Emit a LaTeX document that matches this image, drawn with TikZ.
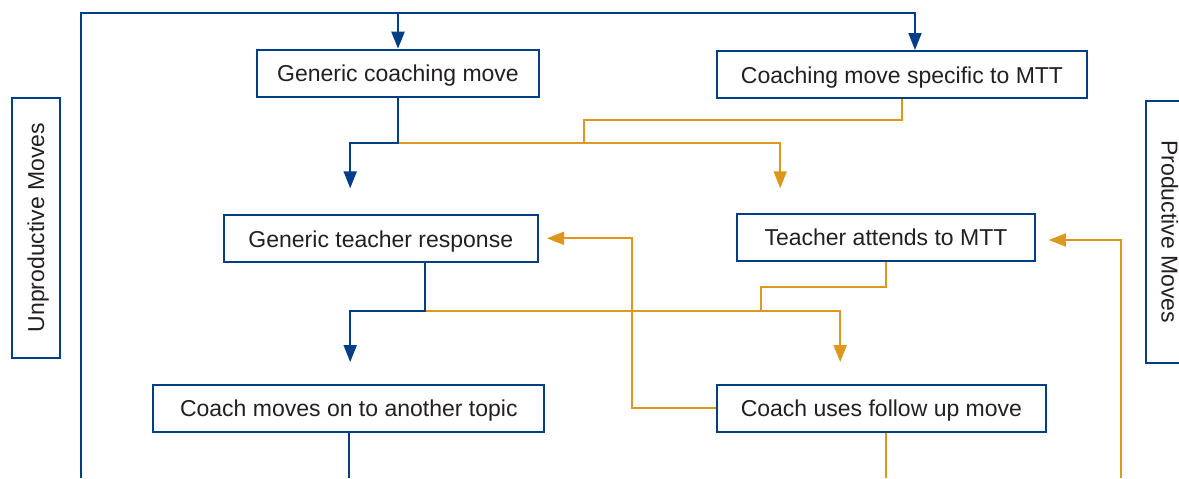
\documentclass[tikz,border=0pt]{standalone}
\usepackage{fontspec}
\setmainfont{Liberation Sans}
\usepackage{tikz}
\usetikzlibrary{arrows.meta}
\usetikzlibrary{calc}
\definecolor{mttblue}{RGB}{0,63,135}
\definecolor{mttorange}{RGB}{221,152,28}
\definecolor{textgray}{RGB}{35,31,32}

\begin{document}
\begin{tikzpicture}[x=0.5pt,y=-0.5pt,font=\fontsize{11.5}{13}\selectfont,
	box/.style={draw=mttblue,line width=1pt,minimum height=23.5pt,inner sep=0pt,text=textgray,text height=9.5pt,text depth=1pt},
	blueline/.style={draw=mttblue,line width=1pt},
	orangeline/.style={draw=mttorange,line width=0.95pt},
	tip/.style={-{Triangle[length=8.5pt,width=6.5pt]}}]
					\useasboundingbox (0,0) rectangle (1179,478);
					\clip (0,0) rectangle (1179,478);
					\node[box,minimum width=141pt] (gcm) at (398,73.2) {Generic coaching move};
					\node[box,minimum width=185pt] (cms) at (902,74.5) {Coaching move specific to MTT};
					\node[box,minimum width=157pt] (gtr) at (380.8,238.5) {Generic teacher response};
					\node[box,minimum width=149pt] (tam) at (886,237.2) {Teacher attends to MTT};
					\node[box,minimum width=195.5pt] (cmo) at (348.8,408.3) {Coach moves on to another topic};
					\node[box,minimum width=164.5pt] (cuf) at (881.4,408.3) {Coach uses follow up move};
					\node[box,rotate=90,minimum width=130pt,minimum height=24pt] (unp) at (35.6,227.5) {Unproductive Moves};
					\node[box,rotate=-90,minimum width=131pt,minimum height=24pt] (pro) at (1170,231.7) {Productive Moves};
					\coordinate (loopin) at (81,478);
					\coordinate (loopcorner) at (81,13.3);
					\coordinate (split1) at (398,143.3);
					\coordinate (knee1) at (584.4,120);
					\coordinate (merge1) at (584.4,143.3);
					\coordinate (tipgtr) at (350.2,188.3);
					\coordinate (tiptam) at (780.2,188.3);
					\coordinate (split2) at (425,310.7);
					\coordinate (knee2) at (761,286.7);
					\coordinate (merge2) at (761,310.7);
					\coordinate (tipcmo) at (350.2,362);
					\coordinate (tipcuf) at (840.2,362);
					\coordinate (knee3) at (632.4,238.3);
					\coordinate (backgtr) at (547,238.3);
					\coordinate (backtam) at (1048.8,240);
					\coordinate (loopright) at (1120.8,478);
					\coordinate (cufout) at (886,478);
					\draw[orangeline] (cms.south) |- (knee1) -- (merge1);
					\draw[orangeline,tip] (split1) -| (tiptam);
					\draw[orangeline] (tam.south) |- (knee2) -- (merge2);
					\draw[orangeline,tip] (split2) -| (tipcuf);
					\draw[orangeline,tip] (cuf.west) -| (knee3) -- (backgtr);
					\draw[orangeline] (cufout |- cuf.south) -- (cufout);
					\draw[orangeline,tip] (loopright) |- (backtam);
					\draw[blueline,tip] (loopin) -- (loopcorner) -| ([xshift=6.5pt]cms.north);
					\draw[blueline,tip] (gcm.north |- loopcorner) -- (gcm.north);
					\draw[blueline,tip] (gcm.south) -- (split1) -| (tipgtr);
					\draw[blueline,tip] (split2 |- gtr.south) -- (split2) -| (tipcmo);
					\draw[blueline] (cmo.south) -- (cmo.south |- loopin);
				\end{tikzpicture}
\end{document}
